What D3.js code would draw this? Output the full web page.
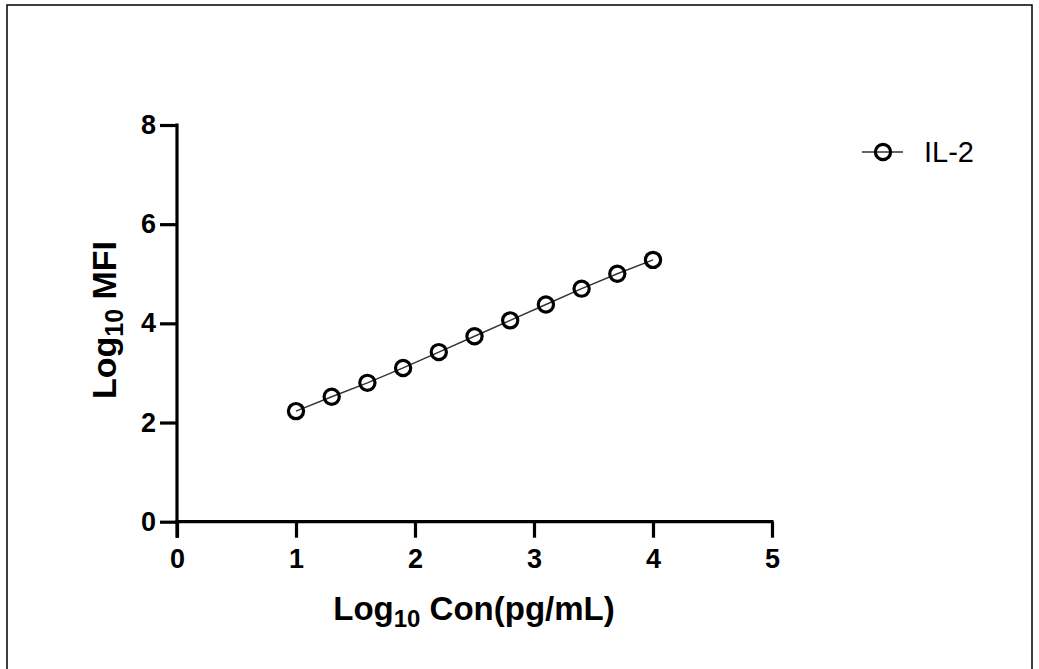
<!DOCTYPE html>
<html>
<head>
<meta charset="utf-8">
<script src="https://cdn.jsdelivr.net/npm/d3@7"></script>
<style>
  html, body { margin: 0; padding: 0; background: #fff; }
  svg { display: block; }
  text { font-family: "Liberation Sans", Arial, sans-serif; fill: #000; }
</style>
</head>
<body>
<svg id="chart" width="1039" height="669"></svg>
<script>
const concentration = [1.0, 1.3, 1.6, 1.9, 2.2, 2.5, 2.8, 3.1, 3.4, 3.7, 4.0];
const mfi = [2.23, 2.52, 2.80, 3.10, 3.42, 3.74, 4.06, 4.38, 4.70, 5.00, 5.28];
const xTicks = [0, 1, 2, 3, 4, 5];
const yTicks = [0, 2, 4, 6, 8];
const seriesName = "IL-2";

const svg = d3.select("#chart");
svg.append("rect").attr("x", 7).attr("y", 5).attr("width", 1025).attr("height", 700)
  .attr("fill", "none").attr("stroke", "#000").attr("stroke-width", 1.5);

const x = d3.scaleLinear().domain([0, 5]).range([177, 772]);
const y = d3.scaleLinear().domain([0, 8]).range([521.7, 125]);

const xAxis = svg.append("g").attr("transform", `translate(0,${y(0)})`)
  .call(d3.axisBottom(x).tickValues(xTicks).tickFormat(d3.format("d")).tickSize(16).tickSizeOuter(0).tickPadding(11));
const yAxis = svg.append("g").attr("transform", `translate(${x(0)},0)`)
  .call(d3.axisLeft(y).tickValues(yTicks).tickFormat(d3.format("d")).tickSize(17).tickSizeOuter(0).tickPadding(4));

[xAxis, yAxis].forEach(g => {
  g.select(".domain").attr("stroke", "#000").attr("stroke-width", 3.2);
  g.selectAll(".tick line").attr("stroke", "#000").attr("stroke-width", 3.2);
  g.selectAll(".tick text").attr("font-family", "Liberation Sans, Arial, sans-serif")
    .attr("font-size", 27).attr("font-weight", "bold").attr("fill", "#000");
});
yAxis.select(".domain").attr("d", `M0,${y(8) - 1.5}V${y(0) + 16}`);
xAxis.select(".domain").attr("d", `M${x(0) - 1.5},0H${x(5) + 1.5}`);

const pts = concentration.map((c, i) => ({ c, v: mfi[i] }));
svg.append("path").datum(pts)
  .attr("d", d3.line().x(d => x(d.c)).y(d => y(d.v)))
  .attr("fill", "none").attr("stroke", "#333").attr("stroke-width", 1.4);
svg.append("g").selectAll("circle").data(pts).join("circle")
  .attr("cx", d => x(d.c)).attr("cy", d => y(d.v)).attr("r", 7.6)
  .attr("fill", "none").attr("stroke", "#000").attr("stroke-width", 3.2);

// x title
const xt = svg.append("text").attr("x", 474).attr("y", 620).attr("text-anchor", "middle")
  .attr("font-size", 33).attr("font-weight", "bold");
xt.append("tspan").text("Log");
xt.append("tspan").text("10").attr("font-size", 24).attr("dy", 7);
xt.append("tspan").text(" Con(pg/mL)").attr("dy", -7);

// y title
const yt = svg.append("text").attr("transform", "translate(116,320) rotate(-90)").attr("text-anchor", "middle")
  .attr("font-size", 34).attr("font-weight", "bold");
yt.append("tspan").text("Log");
yt.append("tspan").text("10").attr("font-size", 25).attr("dy", 7);
yt.append("tspan").text(" MFI").attr("dy", -7);

// legend
const lg = svg.append("g");
lg.append("line").attr("x1", 862).attr("x2", 903).attr("y1", 152).attr("y2", 152)
  .attr("stroke", "#333").attr("stroke-width", 1.4);
lg.append("circle").attr("cx", 883).attr("cy", 152).attr("r", 7.6)
  .attr("fill", "none").attr("stroke", "#000").attr("stroke-width", 3.2);
lg.append("text").attr("x", 924).attr("y", 162).attr("font-size", 29).text(seriesName);
</script>
</body>
</html>
